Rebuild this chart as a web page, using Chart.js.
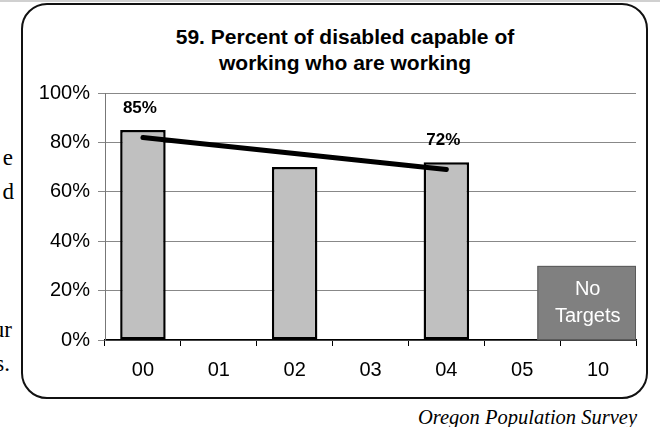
<!DOCTYPE html>
<html>
<head>
<meta charset="utf-8">
<script src="https://cdn.jsdelivr.net/npm/chart.js@4"></script>
<style>
  html, body { margin: 0; padding: 0; background: #fff; }
  body { width: 660px; height: 427px; position: relative; overflow: hidden; }
  .topband { position: absolute; left: 0; top: 0; width: 660px; height: 2px; background: #d0d0d0; }
  .frame {
    position: absolute; left: 21px; top: 3px; width: 627px; height: 396px;
    box-sizing: border-box; border: 2px solid #111; border-radius: 26px;
  }
  .title {
    position: absolute; left: 145px; top: 24px; width: 400px; text-align: center;
    font-family: "Liberation Sans", Arial, sans-serif; font-weight: bold; font-size: 21px; line-height: 26px; color: #000;
  }
  .side { position: absolute; font-family: "Liberation Serif", "Times New Roman", serif; font-size: 23px; color: #000; line-height: 1; }
  .source {
    position: absolute; right: 23px; top: 406px;
    font-family: "Liberation Serif", "Times New Roman", serif; font-style: italic; font-size: 20.5px; color: #000;
  }
  canvas { position: absolute; left: 0; top: 0; }
</style>
</head>
<body>
<div class="topband"></div>
<div class="frame"></div>
<div class="title">59. Percent of disabled capable of<br>working who are working</div>
<span class="side" style="right:647px; top:146px;">e</span>
<span class="side" style="right:646px; top:180px;">d</span>
<span class="side" style="right:648px; top:318px;">ur</span>
<span class="side" style="right:650px; top:352px;">s.</span>
<div class="source">Oregon Population Survey</div>
<canvas id="chart" width="660" height="427"></canvas>
<script>
// ---- data ----
const years       = ['00', '01', '02', '03', '04', '05', '10'];
const percentVals = [85, null, 70, null, 72, null, null];
const barLabels   = ['85%', null, null, null, '72%', null, null];
const trendVals   = [82, null, null, null, 69, null, null];
const yTicks      = [0, 20, 40, 60, 80, 100];
const noTargetsYear  = '10';
const noTargetsLevel = 30;
const noTargetsText  = ['No', 'Targets'];

const FONT = '"Liberation Sans", Arial, sans-serif';

// value labels above the bars
const barLabelPlugin = {
  id: 'barLabels',
  afterDatasetsDraw(chart) {
    const ctx = chart.ctx;
    const meta = chart.getDatasetMeta(0);
    ctx.save();
    ctx.font = 'bold 17px ' + FONT;
    ctx.fillStyle = '#000';
    ctx.textAlign = 'center';
    ctx.textBaseline = 'middle';
    meta.data.forEach((bar, i) => {
      if (!barLabels[i]) return;
      ctx.fillText(barLabels[i], bar.x - 3, bar.y - 22);
    });
    ctx.restore();
  }
};

// grey "No Targets" box on the last category
const noTargetsPlugin = {
  id: 'noTargets',
  afterDatasetsDraw(chart) {
    const { ctx, scales: { x, y } } = chart;
    const idx = years.indexOf(noTargetsYear);
    const left = x.getPixelForValue(idx - 0.8);
    const right = x.getPixelForValue(idx + 0.5);
    const top = y.getPixelForValue(noTargetsLevel);
    const bottom = y.getPixelForValue(0);
    ctx.save();
    ctx.fillStyle = '#808080';
    ctx.fillRect(left, top, right - left, bottom - top);
    ctx.strokeStyle = '#5a5a5a';
    ctx.lineWidth = 1;
    ctx.strokeRect(left + 0.5, top + 0.5, right - left - 1, bottom - top - 1);
    ctx.fillStyle = '#fff';
    ctx.font = '20px ' + FONT;
    ctx.textAlign = 'center';
    ctx.textBaseline = 'middle';
    const cx = (left + right) / 2 + 1;
    const cy = (top + bottom) / 2;
    ctx.fillText(noTargetsText[0], cx, cy - 13);
    ctx.fillText(noTargetsText[1], cx, cy + 14);
    ctx.restore();
  }
};

new Chart(document.getElementById('chart'), {
  type: 'bar',
  data: {
    labels: years,
    datasets: [
      {
        data: percentVals,
        backgroundColor: '#c0c0c0',
        borderColor: '#000',
        borderWidth: 2.5,
        borderSkipped: false,
        categoryPercentage: 1,
        barPercentage: 0.6,
        order: 2
      },
      {
        type: 'line',
        data: trendVals,
        borderColor: '#000',
        borderWidth: 5,
        borderCapStyle: 'round',
        pointRadius: 0,
        spanGaps: true,
        fill: false,
        order: 1
      }
    ]
  },
  options: {
    responsive: false,
    animation: false,
    layout: { padding: { left: 0, right: 24, top: 93, bottom: 0 } },
    plugins: {
      legend: { display: false },
      tooltip: { enabled: false },
      title: { display: false }
    },
    scales: {
      x: {
        grid: { drawOnChartArea: false, drawTicks: true, tickLength: 6, color: '#000', lineWidth: 1 },
        border: { color: '#000', width: 1.5 },
        ticks: { color: '#000', font: { family: FONT, size: 20 }, padding: 12 },
        afterFit(scale) { scale.height = 87; }
      },
      y: {
        min: 0,
        max: 100,
        afterBuildTicks(scale) { scale.ticks = yTicks.map(v => ({ value: v })); },
        grid: { color: '#888', lineWidth: 1, tickLength: 7 },
        border: { color: '#777', width: 1 },
        ticks: { color: '#000', font: { family: FONT, size: 20 }, padding: 8, callback: v => v + '%' },
        afterFit(scale) { scale.width = 105; }
      }
    }
  },
  plugins: [noTargetsPlugin, barLabelPlugin]
});
</script>
</body>
</html>
